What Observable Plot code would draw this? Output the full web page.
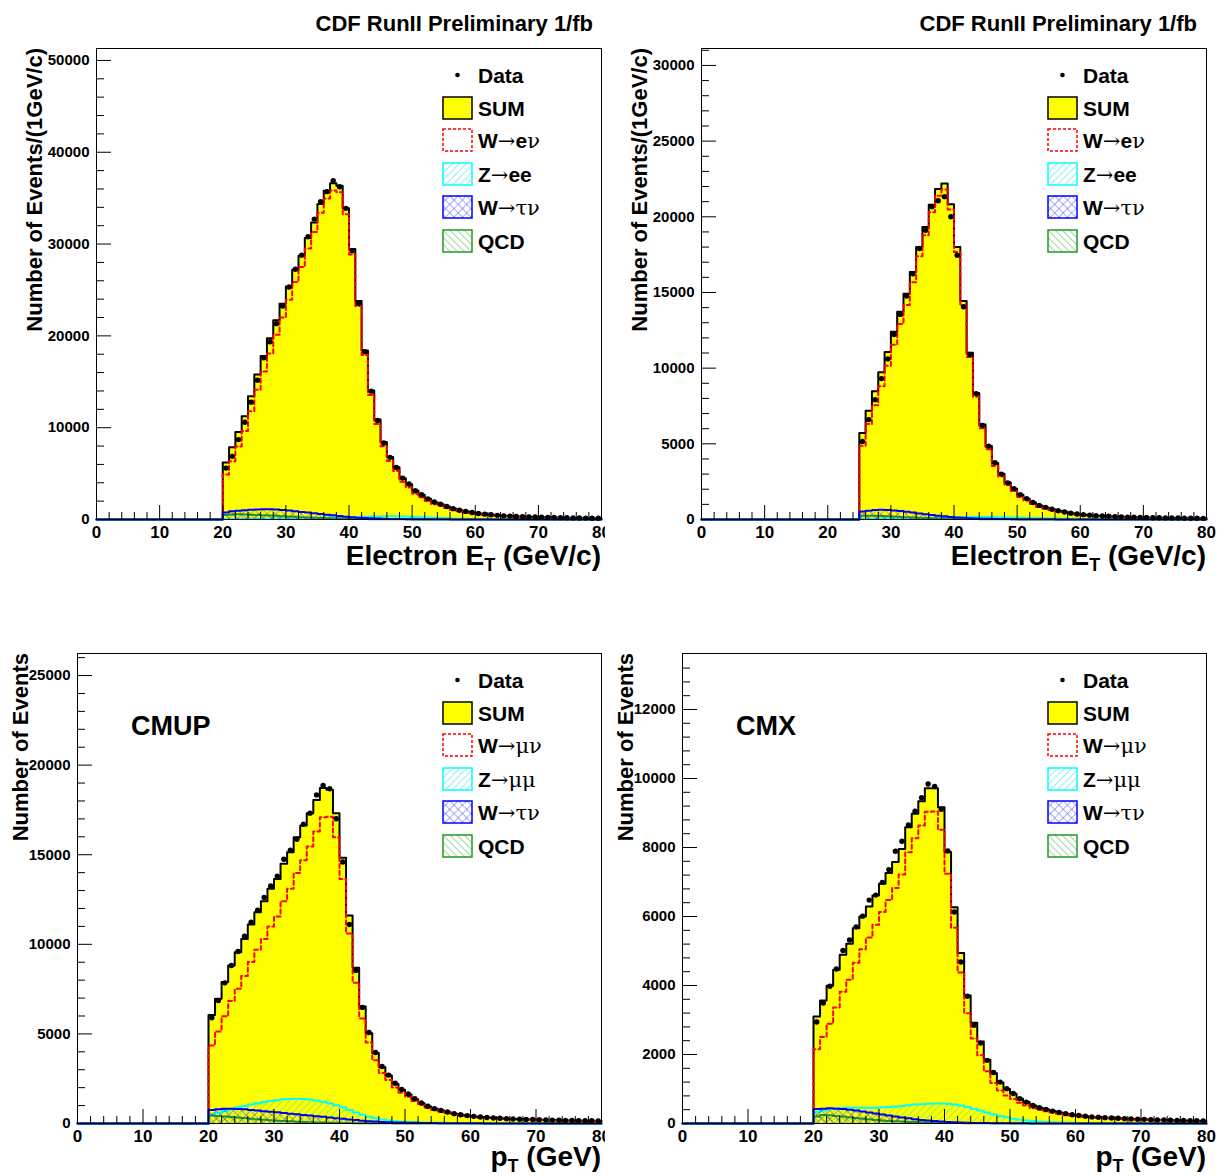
<!DOCTYPE html>
<html><head><meta charset="utf-8">
<script src="https://cdn.jsdelivr.net/npm/d3@7"></script>
<script src="https://cdn.jsdelivr.net/npm/@observablehq/plot@0.6"></script>
<style>
body{margin:0;background:#fff;}
#wrap{position:relative;width:1217px;height:1176px;overflow:hidden;background:#fff;}
#wrap svg.pad{position:absolute;}
</style></head><body>
<svg width="0" height="0" style="position:absolute">
<defs>
<pattern id="hz" patternUnits="userSpaceOnUse" width="5" height="5" patternTransform="rotate(45)"><line x1="0" y1="0" x2="0" y2="5" stroke="#00d8d8" stroke-width="0.8"/></pattern>
<pattern id="hq" patternUnits="userSpaceOnUse" width="5" height="5" patternTransform="rotate(-45)"><line x1="0" y1="0" x2="0" y2="5" stroke="#1f9a1f" stroke-width="0.8"/></pattern>
<pattern id="ht" patternUnits="userSpaceOnUse" width="6" height="6" patternTransform="rotate(45)"><line x1="0" y1="0" x2="0" y2="6" stroke="#3030ff" stroke-width="0.8"/><line x1="0" y1="0" x2="6" y2="0" stroke="#3030ff" stroke-width="0.8"/></pattern>
</defs></svg>
<div id="wrap"></div>
<script>
// ---------------- data ----------------
const titleText = "CDF RunII Preliminary 1/fb";
const xMajor = [0, 10, 20, 30, 40, 50, 60, 70, 80];
const xMinor = [2,4,6,8,12,14,16,18,22,24,26,28,32,34,36,38,42,44,46,48,52,54,56,58,62,64,66,68,72,74,76,78];

// Panel 1: electrons (ET > 20)
const start1 = 20;
const w1 = [4900,6345,7960,9635,11780,14120,16125,18090,20110,22000,
23940,25860,27490,29510,31315,33410,34955,35830,35645,33250,
28865,23265,17910,13560,10410,7985,6360,5280,4107,3492,
2805,2412,2007,1671,1485,1263,1036,909,775,677,
578,518,455,391,356,331,304,277,260,242,
224,208,189,181,167,154,145,136,127,117];
const z1 = [60,65,70,75,80,90,95,100,110,120,
130,140,150,160,175,190,205,220,235,250,
265,285,300,320,335,345,350,345,330,305,
280,250,220,190,160,135,115,95,80,70,
60,52,45,40,35,32,29,26,24,22,
20,18,17,15,14,13,12,11,10,10];
const tau1 = [760,900,950,1000,1050,1100,1120,1110,1080,1030,
980,900,830,760,680,600,520,450,380,310,
250,200,160,130,100,80,65,55,45,38,
32,27,23,20,17,15,13,11,10,9,
8,7,7,6,6,5,5,5,4,4,
4,3,3,3,3,2,2,2,2,2];
const qcd1 = [500,550,560,540,520,490,460,430,400,360,
320,290,250,220,190,160,140,120,100,80,
70,60,50,40,35,30,25,20,18,15,
13,11,10,9,8,7,6,5,5,4,
4,3,3,3,3,2,2,2,2,2,
2,1,1,1,1,1,1,1,1,1];
const data1 = [5600,6880,8700,10600,12780,15180,17620,19360,21330,23260,
25330,27260,28790,30800,32720,34620,35710,36910,36250,33890,
29270,23520,18270,13980,10780,8330,6770,5670,4510,3860,
3130,2690,2250,1900,1660,1420,1180,1010,880,760,
660,580,510,450,400,370,340,310,290,270,
250,235,215,200,185,175,160,150,145,130];
const yMajor1 = [0, 10000, 20000, 30000, 40000, 50000];
const yMinor1 = [2000,4000,6000,8000,12000,14000,16000,18000,22000,24000,26000,28000,32000,34000,36000,38000,42000,44000,46000,48000];

// Panel 2: electrons (ET > 25)
const start2 = 25;
const w2 = [4880,6305,7552,8798,10154,
11540,12915,14180,15675,17398,18785,20302,21394,21806,20478,
17680,14137,10735,8105,6033,4638,3527,2846,2275,1890,
1494,1250,1018,829,708,602,505,445,365,299,
264,238,212,194,176,158,146,134,125,116,
107,99,90,86,82,78,74,70,66,62];
const z2 = [50,55,58,62,66,
70,75,80,85,92,100,108,116,124,132,
140,148,155,160,162,160,152,142,130,120,
110,98,88,80,72,65,58,52,46,42,
38,35,32,30,28,26,24,22,21,20,
19,18,17,16,15,14,13,12,11,10];
const tau2 = [530,580,620,640,630,
600,560,510,460,400,350,300,250,210,170,
140,110,90,70,55,45,37,30,25,21,
18,15,13,11,10,9,8,7,6,6,
5,5,4,4,4,4,3,3,3,3,
3,2,2,2,2,2,2,2,2,2];
const qcd2 = [250,250,240,230,210,
190,170,150,130,110,95,80,70,60,50,
40,35,30,25,20,17,14,12,10,9,
8,7,6,5,5,4,4,3,3,3,
3,2,2,2,2,2,2,1,1,1,
1,1,1,1,1,1,1,1,1,1];
const data2 = [5160,6600,7920,9310,10610,
12220,13550,14760,16240,17910,19110,20660,21060,21330,20000,
17460,14060,10900,8320,6220,4850,3750,3000,2420,2030,
1640,1380,1120,930,800,680,580,500,420,360,
320,280,255,230,210,190,175,160,150,140,
130,120,112,105,100,95,90,85,80,75];
const yMajor2 = [0, 5000, 10000, 15000, 20000, 25000, 30000];
const yMinor2 = [1000,2000,3000,4000,6000,7000,8000,9000,11000,12000,13000,14000,16000,17000,18000,19000,21000,22000,23000,24000,26000,27000,28000,29000,31000];

// Panel 3: CMUP muons
const start3 = 20;
const w3 = [4350,5140,5980,6840,7520,8230,9010,9690,10300,11000,
11550,12410,13100,13980,14695,15460,16300,17090,17120,15975,
13640,10605,7860,5863,4516,3528,2820,2427,2011,1722,
1491,1253,1040,873,755,668,580,496,446,396,
359,322,304,287,268,250,231,223,214,205,
196,187,177,168,159,155,150,146,141,137];
const z3 = [500,600,700,800,900,980,1060,1130,1200,1260,
1310,1350,1370,1380,1370,1340,1290,1220,1130,1020,
900,760,620,490,380,290,220,170,130,100,
80,65,55,47,40,35,31,28,25,22,
20,18,17,16,15,14,13,12,11,10,
10,9,9,8,8,7,7,6,6,5];
const tau3 = [760,800,820,820,810,790,760,730,690,660,
630,590,550,520,480,450,410,370,330,290,
260,220,190,160,130,110,90,75,62,52,
44,37,31,26,22,19,16,14,12,10,
9,8,7,6,6,5,5,4,4,4,
3,3,3,3,2,2,2,2,2,2];
const qcd3 = [450,420,390,360,330,300,270,240,210,180,
160,140,120,100,85,70,60,50,40,35,
30,25,20,17,14,12,10,8,7,6,
5,5,4,4,3,3,3,2,2,2,
2,2,2,1,1,1,1,1,1,1,
1,1,1,1,1,1,1,1,1,1];
const data3 = [5900,6860,7850,8820,9600,10450,11230,11910,12610,13260,
13800,14750,15250,15860,16700,17320,18340,18860,18680,17010,
14590,11110,8540,6480,5080,3960,3180,2700,2250,1900,
1650,1380,1150,960,830,730,640,550,490,440,
400,360,335,310,290,270,255,240,230,220,
210,200,190,180,172,165,160,155,150,145];
const yMajor3 = [0, 5000, 10000, 15000, 20000, 25000];
const yMinor3 = [1000,2000,3000,4000,6000,7000,8000,9000,11000,12000,13000,14000,16000,17000,18000,19000,21000,22000,23000,24000,26000];

// Panel 4: CMX muons
const start4 = 20;
const w4 = [2150,2505,2890,3365,3820,4170,4660,5050,5390,5760,
6130,6475,6825,7220,7865,8265,8640,9035,9045,8515,
7238,5671,4380,3198,2464,1979,1513,1176,959,810,
712,598,523,445,395,355,321,286,251,227,
209,191,173,166,157,148,139,130,121,116,
112,102,98,93,88,84,79,74,73,70];
const z4 = [330,380,420,440,450,460,460,460,460,460,
470,480,490,510,530,550,560,570,580,580,
570,550,520,480,430,380,320,270,220,180,
140,110,90,70,55,45,35,30,25,20,
18,16,14,12,11,10,9,8,7,7,
6,6,5,5,5,4,4,4,3,3];
const tau4 = [420,430,440,430,420,400,380,350,320,290,
260,230,200,175,150,125,105,85,70,55,
45,35,28,22,18,14,11,9,7,6,
5,4,4,3,3,3,2,2,2,2,
2,2,2,1,1,1,1,1,1,1,
1,1,1,1,1,1,1,1,1,1];
const qcd4 = [200,250,240,220,200,180,160,140,120,100,
90,75,65,55,45,40,35,30,25,20,
17,14,12,10,8,7,6,5,4,4,
3,3,3,2,2,2,2,2,2,1,
1,1,1,1,1,1,1,1,1,1,
1,1,1,1,1,1,1,1,1,1];
const data4 = [2940,3490,3980,4480,5015,5320,5700,6010,6475,6620,
6990,7360,7890,8180,8650,9050,9440,9840,9770,9110,
7900,6130,4680,3690,2850,2330,1830,1480,1200,1010,
870,720,620,525,460,410,360,320,285,255,
230,210,192,180,170,160,150,140,132,125,
120,112,105,100,95,90,85,82,78,75];
const yMajor4 = [0, 2000, 4000, 6000, 8000, 10000, 12000];
const yMinor4 = [400,800,1200,1600,2400,2800,3200,3600,4400,4800,5200,5600,6400,6800,7200,7600,8400,8800,9200,9600,10400,10800,11200,11600,12400,12800,13200];

// legend labels: [text, symbolFont]
const legendE = [[["Data",0]],[["SUM",0]],[["W",0],["\u2192",1],["e",0],["\u03bd",1]],[["Z",0],["\u2192",1],["ee",0]],[["W",0],["\u2192",1],["\u03c4\u03bd",1]],[["QCD",0]]];
const legendM = [[["Data",0]],[["SUM",0]],[["W",0],["\u2192",1],["\u03bc\u03bd",1]],[["Z",0],["\u2192",1],["\u03bc\u03bc",1]],[["W",0],["\u2192",1],["\u03c4\u03bd",1]],[["QCD",0]]];

// ---------------- drawing ----------------
const SANS = "'Liberation Sans', Arial, Helvetica, sans-serif";
const SYM = "'DejaVu Serif', 'Liberation Serif', serif";

function steps(arr, start) {
  const p = [{x: 0, y: 0}];
  arr.forEach((v, i) => p.push({x: start + i, y: v}));
  p.push({x: 80, y: arr[arr.length - 1]});
  return p;
}

function makePanel(c) {
  const iw = c.W - c.ml - c.mr, ih = c.H - c.mt - c.mb;
  const sum = c.w.map((v, i) => v + c.z[i] + c.tau[i] + c.qcd[i]);
  const pts = c.data.map((v, i) => ({x: c.start + i + 0.5, y: v}));
  const S = steps(sum, c.start), Wd = steps(c.w, c.start), Zd = steps(c.z, c.start),
        Td = steps(c.tau, c.start), Qd = steps(c.qcd, c.start);
  const opt = {x: "x", y: "y", curve: "step-after"};
  const svg = Plot.plot({
    width: c.W, height: c.H,
    marginLeft: c.ml, marginRight: c.mr, marginTop: c.mt, marginBottom: c.mb,
    x: {domain: [0, 80]},
    y: {domain: [0, c.ymax]},
    style: {fontFamily: SANS, fontWeight: "bold", fontSize: "16px", background: "white", color: "black"},
    marks: [
      Plot.areaY(S, {...opt, fill: "#ffff00"}),
      Plot.lineY(S, {...opt, stroke: "black", strokeWidth: 2}),
      Plot.lineY(Wd, {...opt, stroke: "#ff0000", strokeWidth: 2, strokeDasharray: "4,3"}),
      Plot.areaY(Zd, {...opt, fill: "url(#hz)"}),
      Plot.lineY(Zd, {...opt, stroke: "#00ffff", strokeWidth: 2}),
      Plot.areaY(Qd, {...opt, fill: "url(#hq)"}),
      Plot.lineY(Qd, {...opt, stroke: "#1f9a1f", strokeWidth: 2}),
      Plot.areaY(Td, {...opt, fill: "url(#ht)"}),
      Plot.lineY(Td, {...opt, stroke: "#0000ff", strokeWidth: 2}),
      Plot.dot(pts, {x: "x", y: "y", r: 2.7, fill: "black"}),
      Plot.tickX(xMinor, {x: d => d, insetTop: ih - 7, stroke: "black"}),
      Plot.tickX(xMajor, {x: d => d, insetTop: ih - 14, stroke: "black"}),
      Plot.tickY(c.yMinor, {y: d => d, insetRight: iw - 8, stroke: "black"}),
      Plot.tickY(c.yMajor, {y: d => d, insetRight: iw - 15, stroke: "black"}),
      Plot.axisX({ticks: xMajor, tickSize: 0, tickPadding: 6, fontSize: 17, fontWeight: "bold", tickFormat: d => String(d), label: null}),
      Plot.axisY({ticks: c.yMajor, tickSize: 0, tickPadding: 7, fontSize: 15, fontWeight: "bold", tickFormat: d => String(d), label: null}),
      Plot.frame({stroke: "black", strokeWidth: 1})
    ]
  });
  svg.classList.add("pad");
  svg.style.left = c.left + "px";
  svg.style.top = c.top + "px";
  const g = d3.select(svg).append("g").attr("text-anchor", "start");

  // title
  if (c.title) {
    g.append("text").attr("x", 593 - (c.left ? 1 : 0)).attr("y", 31)
      .attr("text-anchor", "end").attr("font-family", SANS).attr("font-weight", "bold")
      .attr("font-size", 22).text(titleText);
  }
  // y axis title
  g.append("text").attr("transform", `translate(${c.yTitleX},${c.mt}) rotate(-90)`)
    .attr("text-anchor", "end").attr("font-family", SANS).attr("font-weight", "bold")
    .attr("font-size", 22).text(c.yTitle);
  // x axis title
  const xt = g.append("text").attr("x", c.W - c.mr).attr("y", c.H - c.mb + c.xTitleDy)
    .attr("text-anchor", "end").attr("font-family", SANS).attr("font-weight", "bold")
    .attr("font-size", 28);
  xt.append("tspan").text(c.xTitle[0]);
  xt.append("tspan").attr("font-size", 18).attr("dy", 6).text("T");
  xt.append("tspan").attr("dy", -6).text(c.xTitle[1]);
  // detector label
  if (c.det) {
    g.append("text").attr("x", 131).attr("y", 130).attr("text-anchor", "start").attr("font-family", SANS)
      .attr("font-weight", "bold").attr("font-size", 27).text(c.det);
  }
  // legend
  const rows = [75, 108, 140, 174, 207, 241];
  const bx = 443, bw = 29, bh = 22;
  const styles = [
    null,
    {fill: "#ffff00", stroke: "black", sw: 1.5},
    {fill: "white", stroke: "#ff0000", sw: 1.5, dash: "3,2"},
    {fill: "url(#hz)", stroke: "#00ffff", sw: 1.5},
    {fill: "url(#ht)", stroke: "#0000ff", sw: 1.5},
    {fill: "url(#hq)", stroke: "#1f9a1f", sw: 1.5}
  ];
  c.legend.forEach((lab, i) => {
    const cy = rows[i];
    if (i === 0) {
      g.append("circle").attr("cx", bx + bw / 2).attr("cy", cy).attr("r", 2.3).attr("fill", "black");
    } else {
      const s = styles[i];
      g.append("rect").attr("x", bx).attr("y", cy - bh / 2).attr("width", bw).attr("height", bh)
        .attr("fill", s.fill).attr("stroke", s.stroke).attr("stroke-width", s.sw)
        .attr("stroke-dasharray", s.dash || null);
    }
    const t = g.append("text").attr("x", 478).attr("y", cy + 7.5).attr("text-anchor", "start")
      .attr("font-family", SANS).attr("font-weight", "bold").attr("font-size", 21);
    lab.forEach(([txt, sym]) => {
      const ts = t.append("tspan").text(txt);
      if (sym) ts.attr("font-family", SYM).attr("font-weight", "normal").attr("font-size", 21);
    });
  });
  return svg;
}

const wrap = document.getElementById("wrap");
const panels = [
  {left: 0, top: 0, W: 605, H: 588, ml: 96, mr: 4, mt: 48, mb: 69, ymax: 51300,
   start: start1, w: w1, z: z1, tau: tau1, qcd: qcd1, data: data1, yMajor: yMajor1, yMinor: yMinor1,
   title: true, yTitle: "Number of Events/(1GeV/c)", yTitleX: 42, xTitle: ["Electron E", " (GeV/c)"], xTitleDy: 46, legend: legendE},
  {left: 605, top: 0, W: 612, H: 588, ml: 96, mr: 11, mt: 48, mb: 69, ymax: 31120,
   start: start2, w: w2, z: z2, tau: tau2, qcd: qcd2, data: data2, yMajor: yMajor2, yMinor: yMinor2,
   title: true, yTitle: "Number of Events/(1GeV/c)", yTitleX: 42, xTitle: ["Electron E", " (GeV/c)"], xTitleDy: 46, legend: legendE},
  {left: 0, top: 605, W: 605, H: 571, ml: 77, mr: 4, mt: 48, mb: 53, ymax: 26230,
   start: start3, w: w3, z: z3, tau: tau3, qcd: qcd3, data: data3, yMajor: yMajor3, yMinor: yMinor3,
   title: false, yTitle: "Number of Events", yTitleX: 28, xTitle: ["p", " (GeV)"], xTitleDy: 43, legend: legendM, det: "CMUP"},
  {left: 605, top: 605, W: 612, H: 571, ml: 77, mr: 11, mt: 48, mb: 53, ymax: 13623,
   start: start4, w: w4, z: z4, tau: tau4, qcd: qcd4, data: data4, yMajor: yMajor4, yMinor: yMinor4,
   title: false, yTitle: "Number of Events", yTitleX: 28, xTitle: ["p", " (GeV)"], xTitleDy: 43, legend: legendM, det: "CMX"}
];
panels.forEach(p => wrap.appendChild(makePanel(p)));
</script>
</body></html>
